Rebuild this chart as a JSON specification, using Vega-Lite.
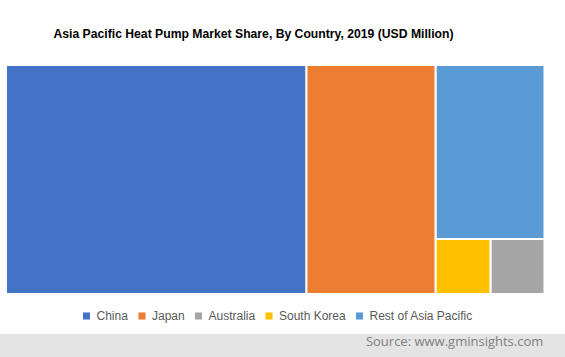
{
  "$schema": "https://vega.github.io/schema/vega-lite/v6.json",
  "padding": {"top": 27, "left": 0, "right": 0, "bottom": 0},
  "autosize": {"type": "pad"},
  "background": "white",
  "title": {
    "text": "Asia Pacific Heat Pump Market Share, By Country, 2019 (USD Million)",
    "font": "Liberation Sans",
    "fontSize": 12.2,
    "fontWeight": "bold",
    "color": "#000000",
    "anchor": "middle",
    "dx": -29,
    "offset": 24
  },
  "spacing": 12,
  "resolve": {"legend": {"color": "independent"}, "scale": {"color": "independent"}},
  "vconcat": [
    {
      "width": 565,
      "height": 229,
      "data": {
        "values": [
          {"country": "China", "value": 55.8, "group": "A", "sub": "all", "order": 1},
          {"country": "Japan", "value": 24.0, "group": "B", "sub": "all", "order": 2},
          {"country": "Rest of Asia Pacific", "value": 15.35, "group": "C", "sub": "top", "order": 3},
          {"country": "South Korea", "value": 2.45, "group": "C", "sub": "bottom", "order": 4},
          {"country": "Australia", "value": 2.4, "group": "C", "sub": "bottom", "order": 5}
        ]
      },
      "transform": [
        {"joinaggregate": [{"op": "sum", "field": "value", "as": "groupSum"}], "groupby": ["group"]},
        {"joinaggregate": [{"op": "sum", "field": "value", "as": "subSum"}], "groupby": ["group", "sub"]},
        {"window": [{"op": "sum", "field": "value", "as": "cumAll"}], "sort": [{"field": "order"}], "frame": [null, 0]},
        {"joinaggregate": [{"op": "max", "field": "cumAll", "as": "gEnd"}], "groupby": ["group"]},
        {"window": [{"op": "sum", "field": "value", "as": "cumG"}], "groupby": ["group"], "sort": [{"field": "order"}], "frame": [null, 0]},
        {"joinaggregate": [{"op": "max", "field": "cumG", "as": "subEnd"}], "groupby": ["group", "sub"]},
        {"window": [{"op": "sum", "field": "value", "as": "cumS"}], "groupby": ["group", "sub"], "sort": [{"field": "order"}], "frame": [null, 0]},
        {"calculate": "datum.gEnd - datum.groupSum + (datum.cumS - datum.value) / datum.subSum * datum.groupSum", "as": "x0"},
        {"calculate": "datum.gEnd - datum.groupSum + datum.cumS / datum.subSum * datum.groupSum", "as": "x1"},
        {"calculate": "(datum.subEnd - datum.subSum) / datum.groupSum", "as": "y0"},
        {"calculate": "datum.subEnd / datum.groupSum", "as": "y1"}
      ],
      "mark": {"type": "rect", "stroke": "white", "strokeWidth": 2},
      "encoding": {
        "x": {"field": "x0", "type": "quantitative", "scale": {"domain": [-1.114, 103.81], "nice": false, "zero": false}, "axis": null},
        "x2": {"field": "x1"},
        "y": {"field": "y0", "type": "quantitative", "scale": {"domain": [0, 1], "reverse": true, "nice": false}, "axis": null},
        "y2": {"field": "y1"},
        "color": {
          "field": "country",
          "type": "nominal",
          "scale": {
            "domain": ["China", "Japan", "Australia", "South Korea", "Rest of Asia Pacific"],
            "range": ["#4472C4", "#ED7D31", "#A5A5A5", "#FFC000", "#5B9BD5"]
          },
          "legend": {
            "orient": "none",
            "legendX": 80.5,
            "legendY": 245,
            "direction": "horizontal",
            "title": null,
            "padding": 0,
            "symbolType": "square",
            "symbolSize": 50,
            "symbolStrokeWidth": 0,
            "labelFont": "Liberation Sans",
            "labelFontSize": 12,
            "labelColor": "#595959",
            "labelOffset": 4,
            "columnPadding": 7.5
          }
        }
      }
    },
    {
      "width": 565,
      "height": 23,
      "view": {"fill": "#E4E4E4", "stroke": null},
      "data": {"values": [{"source": "Source: www.gminsights.com"}]},
      "mark": {"type": "text", "align": "right", "baseline": "middle", "dy": -4, "font": "Open Sans", "fontSize": 13, "color": "#7F7F7F"},
      "encoding": {
        "text": {"field": "source", "type": "nominal"},
        "x": {"datum": 1, "type": "quantitative", "scale": {"domain": [0, 1.04], "nice": false}, "axis": null}
      }
    }
  ],
  "config": {"view": {"stroke": null}}
}
